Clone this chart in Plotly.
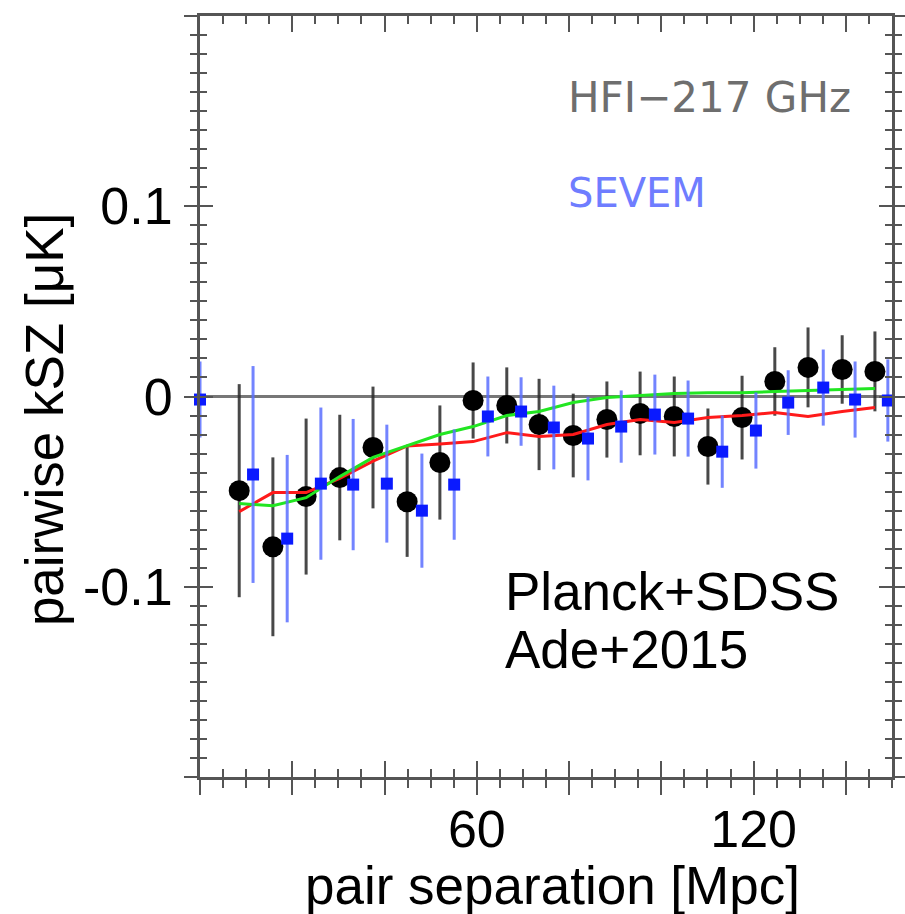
import plotly.graph_objects as go

# ---------------- data ----------------
black_x = [-2.8, 8.5, 15.8, 23.0, 30.3, 37.5, 44.9, 52.0, 59.2, 66.5, 73.5,
           80.9, 88.2, 95.4, 102.8, 110.1, 117.5, 124.6, 131.8, 139.2, 146.3]
black_y = [0.010, -0.0495, -0.079, -0.0526, -0.0426, -0.0268, -0.0553, -0.0347,
           -0.0021, -0.0047, -0.0147, -0.0205, -0.0121, -0.0089, -0.0105,
           -0.0263, -0.0111, 0.0079, 0.0153, 0.0142, 0.0132]
black_err = [0.0, 0.056, 0.047, 0.041, 0.033, 0.032, 0.029, 0.030, 0.020, 0.020,
             0.024, 0.022, 0.020, 0.022, 0.021, 0.020, 0.022, 0.018, 0.021,
             0.018, 0.021]

blue_x = [0.0, 11.5, 18.9, 26.2, 33.2, 40.5, 48.1, 55.1, 62.4, 69.6, 76.7,
          84.1, 91.3, 98.6, 105.8, 113.2, 120.5, 127.5, 135.1, 142.0, 149.1]
blue_y = [-0.0016, -0.041, -0.0747, -0.0458, -0.0463, -0.0458, -0.060, -0.0463,
          -0.0105, -0.0079, -0.0163, -0.0221, -0.0158, -0.0095, -0.0116,
          -0.029, -0.0179, -0.0032, 0.0047, -0.0016, -0.0021]
blue_err = [0.020, 0.057, 0.044, 0.040, 0.0345, 0.031, 0.030, 0.029, 0.021,
            0.018, 0.022, 0.022, 0.019, 0.021, 0.020, 0.019, 0.020, 0.017,
            0.020, 0.020, 0.0216]

model_x = [8.5, 15.8, 23.0, 30.3, 37.5, 44.9, 52.0, 59.2, 66.5, 73.5,
           80.9, 88.2, 95.4, 102.8, 110.1, 117.5, 124.6, 131.8, 139.2, 146.3]
red_y = [-0.0605, -0.0505, -0.0505, -0.043, -0.034, -0.026, -0.025, -0.0237,
         -0.019, -0.021, -0.020, -0.0147, -0.0121, -0.0137, -0.011, -0.010,
         -0.0084, -0.0105, -0.0079, -0.0058]
green_y = [-0.0563, -0.0574, -0.0532, -0.0421, -0.032, -0.026, -0.020, -0.0158,
           -0.010, -0.0079, -0.0032, -0.0005, 0.0005, 0.0016, 0.002, 0.002,
           0.0026, 0.003, 0.0037, 0.0042]

x_tickvals = [0, 20, 40, 60, 80, 100, 120, 140]
x_ticktext = ["", "", "", "60", "", "", "120", ""]
y_tickvals = [-0.2, -0.1, 0, 0.1, 0.2]
y_ticktext = ["", "-0.1", "0", "0.1", ""]

# ---------------- figure ----------------
AX = "#555555"
fig = go.Figure()

fig.add_trace(go.Scatter(
    x=black_x, y=black_y, mode="markers", cliponaxis=False,
    marker=dict(symbol="circle", size=21, color="black"),
    error_y=dict(type="data", array=black_err, visible=True,
                 color="rgba(40,40,40,0.85)", thickness=3, width=0),
    showlegend=False, hoverinfo="skip"))

fig.add_trace(go.Scatter(
    x=model_x, y=red_y, mode="lines",
    line=dict(color="#ff1a1a", width=3), showlegend=False, hoverinfo="skip"))
fig.add_trace(go.Scatter(
    x=model_x, y=green_y, mode="lines",
    line=dict(color="#22e622", width=3), showlegend=False, hoverinfo="skip"))

fig.add_trace(go.Scatter(
    x=blue_x, y=blue_y, mode="markers", cliponaxis=False,
    marker=dict(symbol="square", size=12, color="#0a1aff"),
    error_y=dict(type="data", array=blue_err, visible=True,
                 color="rgba(90,110,255,0.85)", thickness=3, width=0),
    showlegend=False, hoverinfo="skip"))

# dummy trace for the overlay axes (inside ticks)
fig.add_trace(go.Scatter(x=[0], y=[0], xaxis="x2", yaxis="y2", mode="markers",
                         marker=dict(opacity=0), showlegend=False, hoverinfo="skip"))

tickfont = dict(family="Liberation Sans, Arial, sans-serif", size=52, color="black")

fig.update_layout(
    width=905, height=914,
    margin=dict(l=200, r=13, t=16, b=137, autoexpand=False),
    paper_bgcolor="white", plot_bgcolor="white",
    xaxis=dict(range=[0, 150], tickmode="array", tickvals=x_tickvals, ticktext=x_ticktext,
               ticks="outside", ticklen=15, tickwidth=2, tickcolor=AX,
               minor=dict(ticks="outside", ticklen=8, tickwidth=2, tickcolor=AX,
                          dtick=5, tick0=0, showgrid=False),
               showline=True, linecolor=AX, linewidth=3, mirror=True, automargin=False,
               showgrid=False, zeroline=False, tickfont=tickfont, ticklabelstandoff=-10),
    xaxis2=dict(range=[0, 150], overlaying="x", anchor="y2", side="bottom",
                tickmode="array", tickvals=x_tickvals, showticklabels=False,
                ticks="inside", ticklen=16, tickwidth=2, tickcolor=AX,
                minor=dict(ticks="inside", ticklen=8, tickwidth=2, tickcolor=AX,
                           dtick=5, tick0=0, showgrid=False),
                showline=True, linecolor=AX, linewidth=3, mirror="ticks", automargin=False,
                showgrid=False, zeroline=False),
    yaxis=dict(range=[-0.2, 0.2], tickmode="array", tickvals=y_tickvals, ticktext=y_ticktext,
               ticks="outside", ticklen=13, tickwidth=2, tickcolor=AX,
               minor=dict(ticks="outside", ticklen=7, tickwidth=2, tickcolor=AX,
                          dtick=0.01, tick0=0, showgrid=False),
               showline=True, linecolor=AX, linewidth=3, mirror="ticks", automargin=False,
               showgrid=False, zeroline=True, zerolinecolor="#777777", zerolinewidth=2.5,
               tickfont=tickfont, ticklabelstandoff=1),
    yaxis2=dict(range=[-0.2, 0.2], overlaying="y", anchor="x2", side="left",
                tickmode="array", tickvals=y_tickvals, showticklabels=False,
                ticks="inside", ticklen=13, tickwidth=2, tickcolor=AX,
                minor=dict(ticks="inside", ticklen=7, tickwidth=2, tickcolor=AX,
                           dtick=0.01, tick0=0, showgrid=False),
                showline=True, linecolor=AX, linewidth=3, mirror="ticks", automargin=False,
                showgrid=False, zeroline=False),
)

big = dict(family="Liberation Sans, Arial, sans-serif", size=53, color="black")
fig.add_annotation(text="pairwise kSZ [μK]", xref="paper", yref="paper",
                   x=-0.2254, y=0.469, xanchor="center", yanchor="middle",
                   textangle=-90, showarrow=False, font=big)
fig.add_annotation(text="pair separation [Mpc]", xref="paper", yref="paper",
                   x=0.5087, y=-0.142, xanchor="center", yanchor="middle",
                   showarrow=False, font=big)
note = dict(family="Liberation Sans, Arial, sans-serif", size=53, color="black")
fig.add_annotation(text="Planck+SDSS", xref="paper", yref="paper",
                   x=0.4379, y=0.2444, xanchor="left", yanchor="middle",
                   showarrow=False, font=note)
fig.add_annotation(text="Ade+2015", xref="paper", yref="paper",
                   x=0.4379, y=0.1669, xanchor="left", yanchor="middle",
                   showarrow=False, font=note)
fig.add_annotation(text="HFI−217 GHz", xref="paper", yref="paper",
                   x=0.5290, y=0.8923, xanchor="left", yanchor="middle",
                   showarrow=False, font=dict(family="DejaVu Sans, sans-serif", size=42, color="#6e6e6e"))
fig.add_annotation(text="SEVEM", xref="paper", yref="paper",
                   x=0.5290, y=0.7674, xanchor="left", yanchor="middle",
                   showarrow=False, font=dict(family="DejaVu Sans, sans-serif", size=40, color="#6f7dff"))

fig.write_html("out.html")
